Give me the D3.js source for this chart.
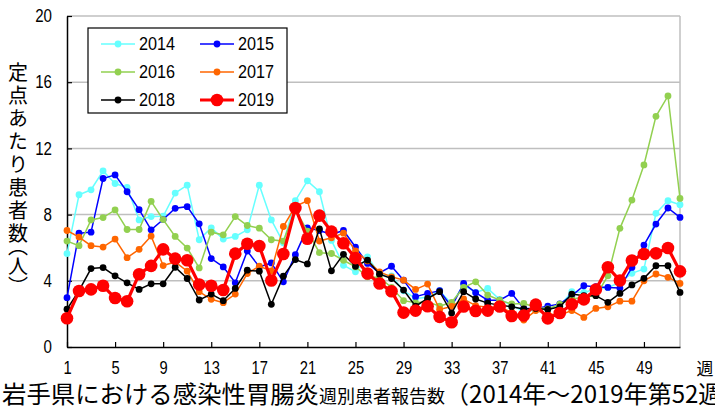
<!DOCTYPE html>
<html>
<head>
<meta charset="utf-8">
<script src="https://cdn.jsdelivr.net/npm/d3@7"></script>
<style>
body { margin: 0; background: #fff; }
svg { display: block; }
text { font-family: "Liberation Sans", Arial, sans-serif; fill: #000; }
.jp { font-family: "Noto Sans CJK JP", sans-serif; }
.half { font-feature-settings: "vhal" 1; }
</style>
</head>
<body>
<svg id="chart" width="715" height="410"></svg>
<script>
// weekly reports per sentinel, weeks 1..52
const weeks = d3.range(1, 53)
const years = ["2014", "2015", "2016", "2017", "2018", "2019"]
const v2014 = [5.64,9.2,9.5,10.64,9.88,9.64,7.68,7.88,7.9,9.3,9.78,6.48,7.2,6.52,6.68,7.08,9.78,7.68,6.3,8.84,10.04,9.38,6.44,4.94,4.54,5.45,4.4,4.3,3.4,2.93,3.0,3.4,2.6,3.75,3.3,3.54,2.87,2.53,2.13,2.23,2.3,2.5,3.34,3.3,3.5,3.6,3.9,4.45,4.71,8.08,8.84,8.6]
const v2015 = [2.98,6.88,6.94,10.18,10.4,9.38,8.3,7.08,7.7,8.38,8.48,7.44,5.34,4.84,3.88,5.8,4.84,5.08,3.94,5.58,7.2,7.04,6.8,7.04,6.04,5.05,4.48,4.88,4.04,3.04,3.24,3.4,2.43,3.84,3.28,2.83,2.83,3.24,2.33,2.33,2.47,2.6,3.1,3.7,3.64,3.6,3.56,4.81,6.16,7.43,8.4,7.83]
const v2016 = [6.4,6.12,7.68,7.82,8.28,7.1,7.1,8.8,7.7,6.68,5.98,4.78,6.94,6.78,7.88,7.34,7.18,6.48,6.4,8.3,7.0,5.7,5.65,5.24,4.84,4.24,4.2,3.6,2.8,2.67,2.73,2.47,2.7,3.6,3.94,3.14,2.83,2.6,2.63,2.4,2.3,2.59,2.9,3.0,3.1,4.3,7.17,8.88,11.0,13.94,15.17,8.98]
const v2017 = [7.04,6.64,6.12,6.04,6.52,5.4,5.9,6.7,4.92,5.14,4.58,3.34,2.88,2.68,3.2,4.44,4.88,4.6,7.28,8.5,8.84,6.4,6.6,6.88,5.8,5.2,4.54,4.24,4.04,3.48,3.8,2.27,2.45,2.9,2.5,2.4,2.4,2.1,1.63,2.2,2.0,1.93,2.2,1.79,2.33,2.43,2.77,2.77,4.0,4.41,4.21,3.84]
const v2018 = [2.28,3.4,4.74,4.8,4.3,3.88,3.48,3.82,3.82,4.82,4.14,2.84,3.2,2.8,3.54,4.64,4.58,2.58,4.28,5.28,5.02,7.14,4.6,5.6,4.88,5.25,4.4,4.14,3.44,2.47,2.93,3.34,2.05,3.34,2.9,2.65,2.53,2.43,2.3,2.33,2.27,2.43,3.2,3.1,3.1,2.7,3.24,3.75,4.15,4.91,4.91,3.3]
const v2019 = [1.74,3.38,3.48,3.7,2.96,2.76,4.4,4.9,5.9,5.34,5.24,3.78,3.7,3.44,5.64,6.24,6.1,4.02,5.62,8.4,6.54,7.94,6.97,6.27,5.37,4.44,3.84,3.37,2.08,2.2,2.46,1.82,1.5,2.45,2.18,2.2,2.45,1.87,1.9,2.56,1.73,2.05,2.58,2.88,3.47,4.82,4.02,5.23,5.62,5.66,5.98,4.57]
const yTicks = [0, 4, 8, 12, 16, 20]
const xTicks = [1, 5, 9, 13, 17, 21, 25, 29, 33, 37, 41, 45, 49]

const values = [v2014, v2015, v2016, v2017, v2018, v2019]
const colors = ["#66ffff", "#0000ff", "#92d050", "#ff6600", "#000000", "#ff0000"]

const svg = d3.select("#chart")
const plotL = 67, plotR = 680, plotT = 16, plotB = 347

const x = d3.scaleLinear().domain([1, 52]).range([plotL, plotR])
const y = d3.scaleLinear().domain([0, 20]).range([plotB, plotT])

// grid
svg.append("g")
    .selectAll("line")
    .data(yTicks.filter(d => d > 0))
    .join("line")
    .attr("x1", plotL).attr("x2", plotR)
    .attr("y1", d => y(d)).attr("y2", d => y(d))
    .attr("stroke", "#bfbfbf").attr("stroke-width", 1.5)
svg.append("line")
    .attr("x1", plotR).attr("x2", plotR)
    .attr("y1", plotT).attr("y2", plotB)
    .attr("stroke", "#bfbfbf").attr("stroke-width", 1.5)

// axes
const yAxis = svg.append("g")
    .attr("transform", `translate(${plotL},0)`)
    .call(d3.axisLeft(y).tickValues(yTicks).tickSize(-5).tickSizeOuter(0).tickPadding(15))
yAxis.selectAll("text").attr("font-size", 18)
    .attr("lengthAdjust", "spacingAndGlyphs")
    .attr("textLength", d => String(d).length * 8.4)
const xAxis = svg.append("g")
    .attr("transform", `translate(0,${plotB})`)
    .call(d3.axisBottom(x).tickValues(xTicks).tickSize(-5).tickSizeOuter(0).tickPadding(14))
xAxis.selectAll("text").attr("font-size", 18)
    .attr("lengthAdjust", "spacingAndGlyphs")
    .attr("textLength", d => String(d).length * 8.2)
yAxis.attr("font-family", null); xAxis.attr("font-family", null)
svg.selectAll(".domain").attr("stroke", "#000").attr("stroke-width", 1.5)
svg.selectAll(".tick line").attr("stroke", "#000").attr("stroke-width", 1.2)

// series
const line = d3.line().x((d, i) => x(weeks[i])).y(d => y(d))
years.forEach((yr, k) => {
    const big = k === 5
    const g = svg.append("g")
    g.append("path")
        .datum(values[k])
        .attr("fill", "none")
        .attr("stroke", colors[k])
        .attr("stroke-width", big ? 3.2 : 1.5)
        .attr("d", line)
    g.selectAll("circle")
        .data(values[k])
        .join("circle")
        .attr("cx", (d, i) => x(weeks[i]))
        .attr("cy", d => y(d))
        .attr("r", big ? 6.3 : 3.4)
        .attr("fill", colors[k])
})

// legend
const lg = svg.append("g").attr("transform", "translate(88,28)")
lg.append("rect").attr("width", 199).attr("height", 85)
    .attr("fill", "#fff").attr("stroke", "#000").attr("stroke-width", 1.2)
const items = lg.selectAll("g.item")
    .data(years)
    .join("g")
    .attr("class", "item")
    .attr("transform", (d, i) => `translate(${13 + (i % 2) * 99},${16 + Math.floor(i / 2) * 28})`)
items.append("line")
    .attr("x1", 0).attr("x2", 34)
    .attr("stroke", (d, i) => colors[i])
    .attr("stroke-width", (d, i) => i === 5 ? 3.2 : 1.5)
items.append("circle")
    .attr("cx", 17)
    .attr("r", (d, i) => i === 5 ? 6.3 : 3.4)
    .attr("fill", (d, i) => colors[i])
items.append("text")
    .attr("x", 38).attr("dy", "0.36em")
    .attr("font-size", 18)
    .attr("lengthAdjust", "spacingAndGlyphs")
    .attr("textLength", 36)
    .text(d => d)

// labels
svg.append("text")
    .attr("class", "jp")
    .attr("x", 705).attr("y", 375)
    .attr("text-anchor", "middle")
    .attr("font-size", 17)
    .text("週")

const ylab = svg.append("text")
    .attr("class", "jp")
    .attr("x", 18).attr("y", 62)
    .attr("font-size", 20)
    .attr("letter-spacing", 3)
    .style("writing-mode", "vertical-rl")
ylab.append("tspan").text("定点あたり患者数")
ylab.append("tspan").attr("class", "half").attr("letter-spacing", 0).text("（")
ylab.append("tspan").attr("letter-spacing", 0).text("人")
ylab.append("tspan").attr("class", "half").attr("letter-spacing", 0).text("）")

const title = svg.append("text")
    .attr("class", "jp")
    .attr("x", 2).attr("y", 403)
title.append("tspan").attr("font-size", 24.4).text("岩手県における感染性胃腸炎")
title.append("tspan").attr("font-size", 18).text("週別患者報告数")
title.append("tspan").attr("font-size", 24).text("（2014年～2019年第52週）")
</script>
</body>
</html>
